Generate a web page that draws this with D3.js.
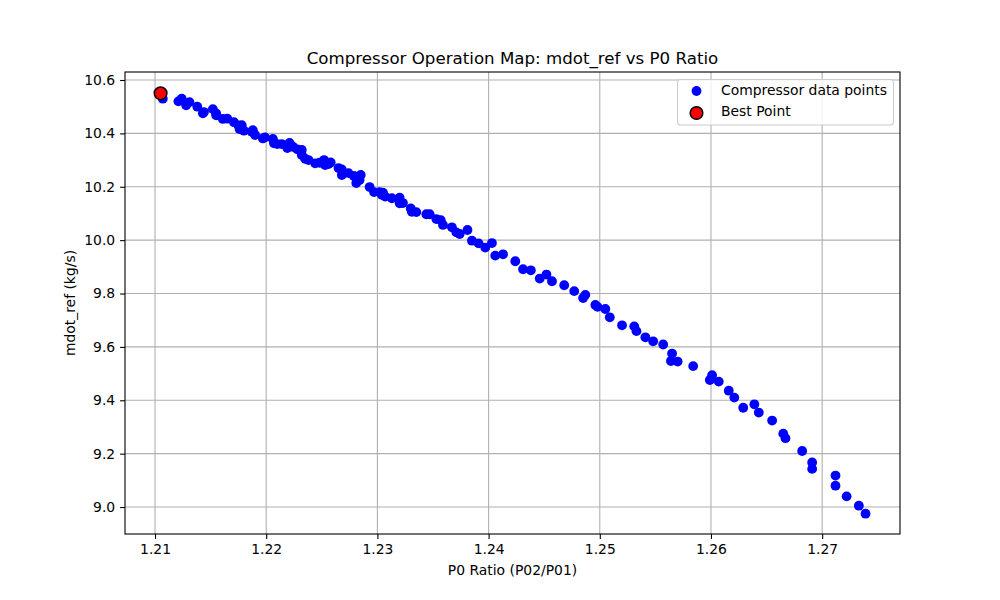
<!DOCTYPE html>
<html>
<head>
<meta charset="utf-8">
<script src="https://cdn.jsdelivr.net/npm/d3@7"></script>
<style>
    html, body { margin: 0; padding: 0; background: #fff; }
    svg { display: block; }
    text { font-family: "DejaVu Sans", sans-serif; fill: #000; }
</style>
</head>
<body>
<div id="chart"></div>
<script>
// values
const p0Ratio = [
    1.2107, 1.2121, 1.2124, 1.2128, 1.2131, 1.2138, 1.2144, 1.2143, 1.2152, 1.2155,
    1.2155, 1.2161, 1.2165, 1.2171, 1.2175, 1.2176, 1.2178, 1.2180, 1.2187, 1.2188,
    1.2190, 1.2197, 1.2199, 1.2206, 1.2207, 1.2210, 1.2214, 1.2221, 1.2219, 1.2224,
    1.2228, 1.2232, 1.2232, 1.2235, 1.2238, 1.2244, 1.2248, 1.2252, 1.2253, 1.2258,
    1.2256, 1.2265, 1.2268, 1.2268, 1.2274, 1.2279, 1.2285, 1.2281, 1.2284, 1.2279,
    1.2293, 1.2297, 1.2302, 1.2305, 1.2307, 1.2304, 1.2313, 1.2320, 1.2320, 1.2323,
    1.2330, 1.2331, 1.2335, 1.2344, 1.2347, 1.2353, 1.2357, 1.2359, 1.2367, 1.2371,
    1.2374, 1.2381, 1.2385, 1.2391, 1.2397, 1.2403, 1.2406, 1.2413, 1.2424, 1.2431,
    1.2438, 1.2446, 1.2452, 1.2457, 1.2468, 1.2477, 1.2487, 1.2485, 1.2496, 1.2498,
    1.2505, 1.2509, 1.2520, 1.2531, 1.2533, 1.2541, 1.2548, 1.2557, 1.2565, 1.2564,
    1.2570, 1.2584, 1.2601, 1.2599, 1.2607, 1.2616, 1.2621, 1.2629, 1.2639, 1.2643,
    1.2655, 1.2665, 1.2667, 1.2682, 1.2691, 1.2691, 1.2712, 1.2712, 1.2722, 1.2733,
    1.2739
];
const mdotRef = [
    10.530, 10.520, 10.530, 10.505, 10.517, 10.500, 10.480, 10.475, 10.491, 10.475,
    10.468, 10.454, 10.455, 10.442, 10.430, 10.416, 10.431, 10.410, 10.406, 10.412,
    10.394, 10.381, 10.385, 10.379, 10.363, 10.360, 10.360, 10.364, 10.345, 10.350,
    10.340, 10.338, 10.319, 10.305, 10.300, 10.288, 10.290, 10.300, 10.281, 10.291,
    10.285, 10.270, 10.265, 10.244, 10.251, 10.240, 10.244, 10.214, 10.225, 10.240,
    10.199, 10.180, 10.180, 10.178, 10.163, 10.170, 10.157, 10.159, 10.138, 10.139,
    10.119, 10.106, 10.105, 10.097, 10.097, 10.079, 10.075, 10.057, 10.048, 10.029,
    10.023, 10.038, 9.998, 9.988, 9.972, 9.989, 9.942, 9.947, 9.921, 9.891,
    9.887, 9.856, 9.871, 9.846, 9.831, 9.809, 9.795, 9.783, 9.757, 9.750,
    9.742, 9.711, 9.681, 9.677, 9.659, 9.636, 9.621, 9.609, 9.575, 9.547,
    9.545, 9.528, 9.494, 9.476, 9.470, 9.436, 9.410, 9.372, 9.385, 9.354,
    9.324, 9.275, 9.258, 9.210, 9.167, 9.143, 9.118, 9.080, 9.040, 9.005,
    8.975
];
const bestRatio = 1.2105;
const bestMdot = 10.55;

const xTicks = [1.21, 1.22, 1.23, 1.24, 1.25, 1.26, 1.27];
const yTicks = [9.0, 9.2, 9.4, 9.6, 9.8, 10.0, 10.2, 10.4, 10.6];

const width = 1000;
const height = 600;
const plotLeft = 125, plotRight = 900, plotTop = 72, plotBottom = 534;

const svg = d3.select("#chart")
    .append("svg")
    .attr("width", width)
    .attr("height", height);

const x = d3.scaleLinear().domain([1.2073, 1.2770]).range([plotLeft, plotRight]);
const y = d3.scaleLinear().domain([8.899, 10.63]).range([plotBottom, plotTop]);

// Grid first so the points sit on top of it
const gridColor = "#b0b0b0";
svg.append("g")
    .selectAll("line")
    .data(xTicks)
    .enter()
    .append("line")
    .attr("x1", d => x(d)).attr("x2", d => x(d))
    .attr("y1", plotTop).attr("y2", plotBottom)
    .attr("stroke", gridColor)
    .attr("stroke-width", 1.1);

svg.append("g")
    .selectAll("line")
    .data(yTicks)
    .enter()
    .append("line")
    .attr("x1", plotLeft).attr("x2", plotRight)
    .attr("y1", d => y(d)).attr("y2", d => y(d))
    .attr("stroke", gridColor)
    .attr("stroke-width", 1.1);

svg.append("g")
    .selectAll("circle")
    .data(p0Ratio)
    .enter()
    .append("circle")
    .attr("cx", d => x(d))
    .attr("cy", (d, i) => y(mdotRef[i]))
    .attr("r", 4.9)
    .attr("fill", "blue");

svg.append("circle")
    .attr("cx", x(bestRatio))
    .attr("cy", y(bestMdot))
    .attr("r", 6.3)
    .attr("fill", "red")
    .attr("stroke", "black")
    .attr("stroke-width", 1.5);

// Axes
const xAxis = d3.axisBottom(x)
    .tickValues(xTicks)
    .tickFormat(d3.format(".2f"))
    .tickSize(4.9)
    .tickPadding(5.6);
const yAxis = d3.axisLeft(y)
    .tickValues(yTicks)
    .tickFormat(d3.format(".1f"))
    .tickSize(4.9)
    .tickPadding(4.9);

const gx = svg.append("g").attr("transform", `translate(0,${plotBottom})`).call(xAxis);
const gy = svg.append("g").attr("transform", `translate(${plotLeft},0)`).call(yAxis);

[gx, gy].forEach(g => {
    g.select(".domain").remove();
    g.selectAll("line").attr("stroke", "black").attr("stroke-width", 1.1);
    g.selectAll("text")
        .style("font-family", '"DejaVu Sans", sans-serif')
        .style("font-size", "13.9px")
        .attr("fill", "black");
});

// Frame
svg.append("rect")
    .attr("x", plotLeft).attr("y", plotTop)
    .attr("width", plotRight - plotLeft).attr("height", plotBottom - plotTop)
    .attr("fill", "none")
    .attr("stroke", "black")
    .attr("stroke-width", 1.1);

// Titles
svg.append("text")
    .attr("x", (plotLeft + plotRight) / 2).attr("y", 64)
    .attr("text-anchor", "middle")
    .style("font-size", "16.67px")
    .text("Compressor Operation Map: mdot_ref vs P0 Ratio");

svg.append("text")
    .attr("x", (plotLeft + plotRight) / 2).attr("y", 575)
    .attr("text-anchor", "middle")
    .style("font-size", "13.9px")
    .text("P0 Ratio (P02/P01)");

svg.append("text")
    .attr("transform", `translate(75,${(plotTop + plotBottom) / 2}) rotate(-90)`)
    .attr("text-anchor", "middle")
    .style("font-size", "13.9px")
    .text("mdot_ref (kg/s)");

// Legend
const legend = svg.append("g");
legend.append("rect")
    .attr("x", 677.5).attr("y", 79.5)
    .attr("width", 216).attr("height", 45.5)
    .attr("rx", 3).attr("ry", 3)
    .attr("fill", "white")
    .attr("fill-opacity", 0.8)
    .attr("stroke", "#cccccc")
    .attr("stroke-width", 1.1);

legend.append("circle")
    .attr("cx", 696.5).attr("cy", 91)
    .attr("r", 4.9)
    .attr("fill", "blue");
legend.append("circle")
    .attr("cx", 696.5).attr("cy", 113)
    .attr("r", 6.3)
    .attr("fill", "red")
    .attr("stroke", "black")
    .attr("stroke-width", 1.5);

legend.append("text")
    .attr("x", 721).attr("y", 95)
    .style("font-size", "13.9px")
    .text("Compressor data points");
legend.append("text")
    .attr("x", 721).attr("y", 116)
    .style("font-size", "13.9px")
    .text("Best Point");
</script>
</body>
</html>
